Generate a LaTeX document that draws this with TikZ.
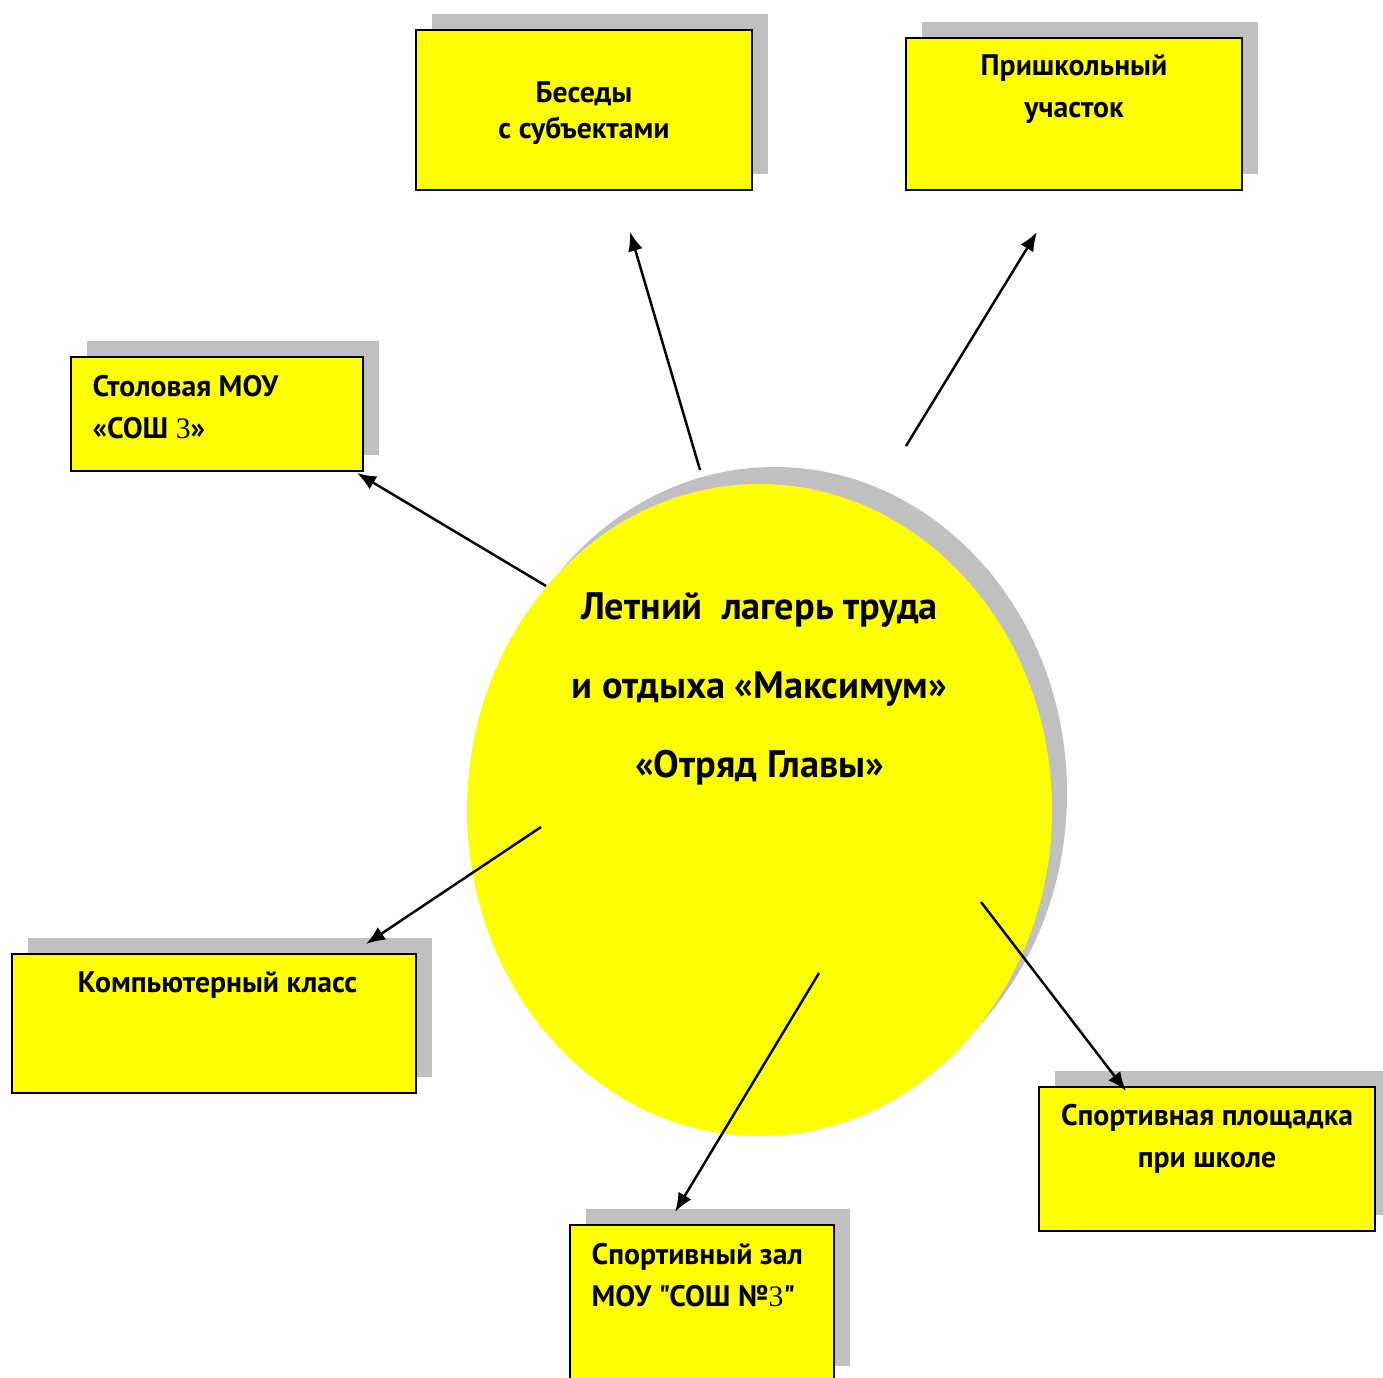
\documentclass[tikz,border=0pt]{standalone}
\usepackage{fontspec}
\setmainfont{PT Sans}[Ligatures=TeXOff]
\newfontfamily\digfont{Liberation Serif}
\newcommand{\dg}[1]{{\digfont\mdseries #1}}
\usepackage{tikz}
\usetikzlibrary{positioning, arrows.meta, shapes.geometric, shadows}
\definecolor{shadowgray}{RGB}{192,192,192}
\definecolor{campyellow}{RGB}{255,255,0}

\begin{document}
\begin{tikzpicture}[
		place/.style={rectangle, draw, fill=campyellow, line width=0.6pt, inner sep=0pt,
			drop shadow={shadow xshift=0.16cm, shadow yshift=0.16cm, fill=shadowgray, opacity=1}},
		camp/.style={ellipse, fill=campyellow, inner sep=0pt,
			drop shadow={shadow xshift=0.15cm, shadow yshift=0.17cm, fill=shadowgray, opacity=1}},
		boxtext/.style={align=center, inner sep=0pt, font=\bfseries\fontsize{8.45}{11.9}\selectfont},
		camptext/.style={align=center, inner sep=0pt, font=\bfseries\fontsize{10.9}{22.5}\selectfont},
		link/.style={line width=0.7pt, -{Latex[length=1.9mm, width=1.5mm]}}
		]
		\clip (0,0) rectangle (13.83,-13.78);
		
		\node[camp, minimum width=5.85cm, minimum height=6.52cm] (camp) at (7.595,-8.10) {};
		\node[camptext] (camp-t) at (7.595,-6.89) {Летний~ лагерь труда\\и отдыха «Максимум»\\«Отряд Главы»};
		
		\node[place, minimum width=3.36cm, minimum height=1.60cm] (bes) at (5.84,-1.10) {};
		\node[place, minimum width=3.36cm, minimum height=1.52cm] (pri) at (10.74,-1.14) {};
		\node[place, minimum width=2.92cm, minimum height=1.14cm] (sto) at (2.17,-4.14) {};
		\node[place, minimum width=4.04cm, minimum height=1.39cm] (kom) at (2.14,-10.235) {};
		\node[place, minimum width=3.36cm, minimum height=1.44cm] (spl) at (12.07,-11.59) {};
		\node[place, minimum width=2.64cm, minimum height=1.57cm] (szl) at (7.02,-13.035) {};
		
		\node[boxtext, font=\bfseries\fontsize{8.45}{10.2}\selectfont] (bes-t) at (5.84,-1.13) {Беседы\\с субъектами};
		\node[boxtext] (pri-t) at (10.74,-0.89) {Пришкольный\\участок};
		\node[boxtext, align=left, anchor=west] (sto-t) at (0.92,-4.075) {Столовая МОУ\\«СОШ \dg{3}»};
		\node[boxtext] (kom-t) at (2.175,-9.85) {Компьютерный класс};
		\node[boxtext] (spl-t) at (12.07,-11.39) {Спортивная площадка\\при школе};
		\node[boxtext, align=left, anchor=west] (szl-t) at (5.91,-12.755) {Спортивный зал\\МОУ "СОШ №\dg{3}"};
		
		% free ends of the arrows
		\coordinate (a1) at (7.00,-4.70);  \coordinate (b1) at (6.30,-2.32);
		\coordinate (a2) at (9.06,-4.46);  \coordinate (b2) at (10.37,-2.32);
		\coordinate (a3) at (5.46,-5.86);  \coordinate (b3) at (3.57,-4.73);
		\coordinate (a4) at (5.41,-8.27);  \coordinate (b4) at (3.66,-9.44);
		\coordinate (a5) at (8.19,-9.73);  \coordinate (b5) at (6.75,-12.12);
		\coordinate (a6) at (9.81,-9.02);  \coordinate (b6) at (11.26,-10.91);
		\foreach \i in {1,...,6}
			\draw[link] (a\i) to (b\i);
		
\end{tikzpicture}
\end{document}
